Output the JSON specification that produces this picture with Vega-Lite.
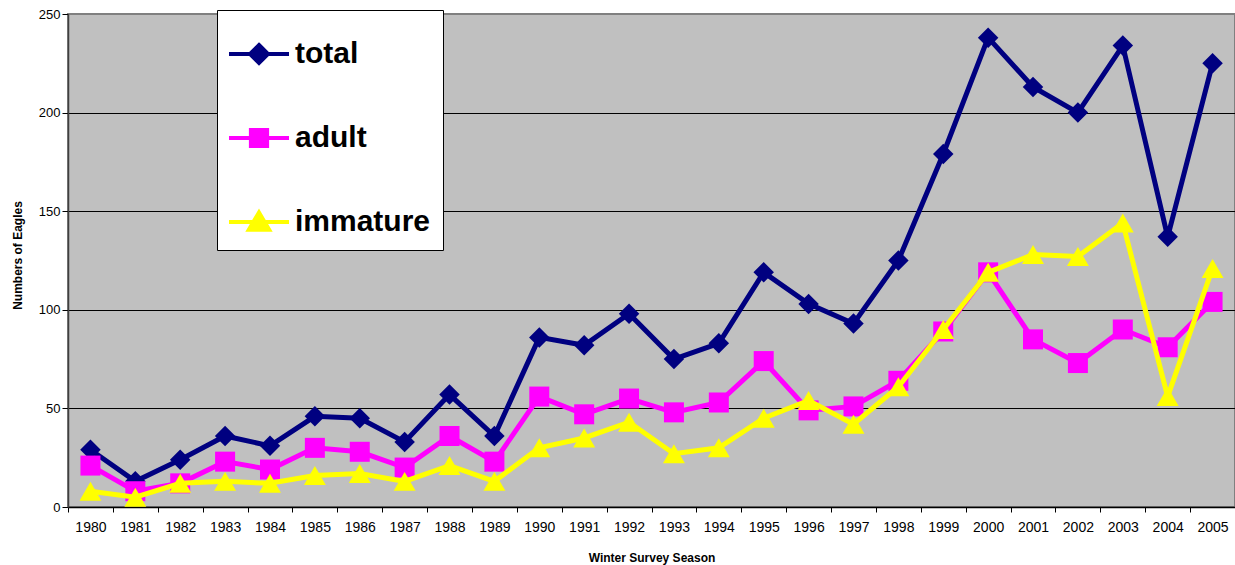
{
  "$schema": "https://vega.github.io/schema/vega-lite/v6.json",
  "width": 1167,
  "height": 493,
  "autosize": {"type": "none"},
  "padding": {"left": 68, "top": 14, "right": 0, "bottom": 58},
  "background": "white",
  "config": {
    "font": "Liberation Sans",
    "view": {"fill": "#C0C0C0", "stroke": "#808080", "strokeWidth": 2},
    "axis": {"labelColor": "black", "titleColor": "black", "labelFont": "Liberation Sans", "titleFont": "Liberation Sans"}
  },
  "data": {
    "values": [
      {"season": "1980", "total": 29, "adult": 21, "immature": 8},
      {"season": "1981", "total": 13, "adult": 8, "immature": 5},
      {"season": "1982", "total": 24, "adult": 12, "immature": 12},
      {"season": "1983", "total": 36, "adult": 23, "immature": 13},
      {"season": "1984", "total": 31, "adult": 19, "immature": 12},
      {"season": "1985", "total": 46, "adult": 30, "immature": 16},
      {"season": "1986", "total": 45, "adult": 28, "immature": 17},
      {"season": "1987", "total": 33, "adult": 20, "immature": 13},
      {"season": "1988", "total": 57, "adult": 36, "immature": 21},
      {"season": "1989", "total": 36, "adult": 23, "immature": 13},
      {"season": "1990", "total": 86, "adult": 56, "immature": 30},
      {"season": "1991", "total": 82, "adult": 47, "immature": 35},
      {"season": "1992", "total": 98, "adult": 55, "immature": 43},
      {"season": "1993", "total": 75, "adult": 48, "immature": 27},
      {"season": "1994", "total": 83, "adult": 53, "immature": 30},
      {"season": "1995", "total": 119, "adult": 74, "immature": 45},
      {"season": "1996", "total": 103, "adult": 49, "immature": 54},
      {"season": "1997", "total": 93, "adult": 51, "immature": 42},
      {"season": "1998", "total": 125, "adult": 64, "immature": 61},
      {"season": "1999", "total": 179, "adult": 89, "immature": 90},
      {"season": "2000", "total": 238, "adult": 119, "immature": 119},
      {"season": "2001", "total": 213, "adult": 85, "immature": 128},
      {"season": "2002", "total": 200, "adult": 73, "immature": 127},
      {"season": "2003", "total": 234, "adult": 90, "immature": 144},
      {"season": "2004", "total": 137, "adult": 81, "immature": 56},
      {"season": "2005", "total": 225, "adult": 104, "immature": 121}
    ]
  },
  "transform": [{"fold": ["total", "adult", "immature"], "as": ["group", "count"]}],
  "encoding": {
    "x": {
      "field": "season",
      "type": "ordinal",
      "scale": {"type": "band", "paddingInner": 0, "paddingOuter": 0},
      "axis": {
        "title": "Winter Survey Season",
        "labelAngle": 0,
        "labelFontSize": 14,
        "labelPadding": 8,
        "tickBand": "extent",
        "tickSize": 5,
        "tickColor": "black",
        "domainColor": "black",
        "domainWidth": 1.5,
        "titleFontSize": 12,
        "titleFontWeight": "bold",
        "titlePadding": 18
      }
    },
    "y": {
      "field": "count",
      "type": "quantitative",
      "scale": {"domain": [0, 250], "nice": false, "zero": true},
      "axis": {
        "title": "Numbers of Eagles",
        "values": [0, 50, 100, 150, 200, 250],
        "grid": true,
        "gridColor": "black",
        "gridWidth": 1,
        "gridOpacity": {"condition": {"test": "datum.value === 250 || datum.value === 0", "value": 0}, "value": 1},
        "labelFontSize": 13,
        "labelPadding": 2,
        "tickSize": 6,
        "tickColor": "black",
        "domainColor": "#404040",
        "domainWidth": 1.5,
        "titleFontSize": 12,
        "titleFontWeight": "bold",
        "titleX": -51,
        "titleY": 241,
        "titleAngle": -90,
        "titleAlign": "center",
        "titleBaseline": "middle"
      }
    },
    "color": {
      "field": "group",
      "type": "nominal",
      "scale": {"domain": ["total", "adult", "immature"], "range": ["#000080", "#FF00FF", "#FFFF00"]},
      "legend": {
        "title": null,
        "orient": "none",
        "legendX": 149,
        "legendY": -4,
        "fillColor": "white",
        "strokeColor": "black",
        "padding": 12,
        "rowPadding": 35,
        "symbolSize": 3600,
        "symbolStrokeWidth": 4,
        "symbolOffset": -2,
        "labelOffset": 4,
        "labelFont": "Liberation Sans",
        "labelFontSize": 30,
        "labelFontWeight": "bold",
        "labelColor": "black",
        "encode": {
          "symbols": {
            "update": {
              "shape": {"signal": "datum.value === 'total' ? 'M-1,0L1,0M0,-0.3L0.3,0L0,0.3L-0.3,0Z' : datum.value === 'adult' ? 'M-1,0L1,0M-0.27,-0.27L0.27,-0.27L0.27,0.27L-0.27,0.27Z' : 'M-1,0L1,0M0,-0.32L0.34,0.26L-0.34,0.26Z'"},
              "fill": {"scale": "color", "field": "value"},
              "stroke": {"scale": "color", "field": "value"},
              "strokeWidth": {"value": 4},
              "opacity": {"value": 1}
            }
          }
        }
      }
    }
  },
  "layer": [
    {
      "transform": [{"filter": "datum.group === 'total'"}],
      "mark": {"type": "line", "strokeWidth": 5, "point": {"shape": "diamond", "size": 420, "filled": true, "opacity": 1}}
    },
    {
      "transform": [{"filter": "datum.group === 'adult'"}],
      "mark": {"type": "line", "strokeWidth": 5, "point": {"shape": "square", "size": 400, "filled": true, "opacity": 1}}
    },
    {
      "transform": [{"filter": "datum.group === 'immature'"}],
      "mark": {"type": "line", "strokeWidth": 5, "point": {"shape": "triangle-up", "size": 480, "filled": true, "opacity": 1}}
    }
  ]
}
